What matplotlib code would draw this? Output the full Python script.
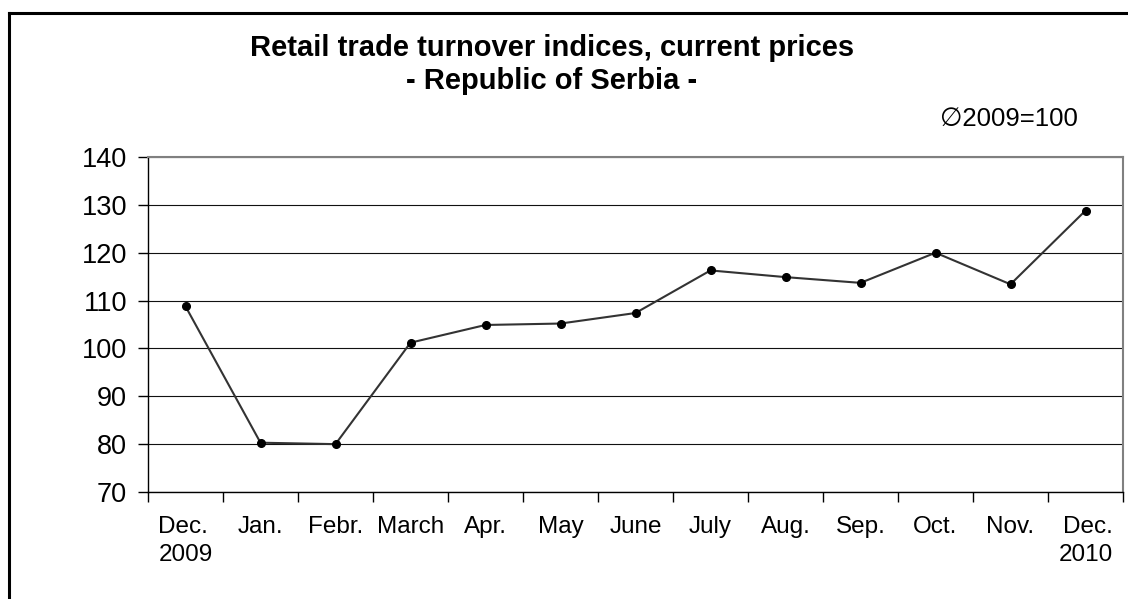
import matplotlib
matplotlib.use("Agg")
import matplotlib.pyplot as plt
from matplotlib.lines import Line2D

MONTHS = ["Dec.\n2009", "Jan.", "Febr.", "March", "Apr.", "May", "June",
          "July", "Aug.", "Sep.", "Oct.", "Nov.", "Dec.\n2010"]
INDEX = [108.8, 80.3, 80.0, 101.2, 104.9, 105.2, 107.4,
         116.3, 114.9, 113.7, 120.0, 113.4, 128.8]
YTICKS = [70, 80, 90, 100, 110, 120, 130, 140]

plt.rcParams["font.family"] = ["Liberation Sans", "DejaVu Sans"]

W, H = 1128, 599
fig = plt.figure(figsize=(W / 100, H / 100), dpi=100)
ax = fig.add_axes([148 / W, 1 - 492 / H, (1123 - 148) / W, (492 - 157) / H])

x = list(range(len(MONTHS)))
ax.plot(x, INDEX, color="#333333", linewidth=1.5, marker="o",
        markersize=5.5, markerfacecolor="black", markeredgecolor="black",
        zorder=3)

ax.set_xlim(-0.5, len(MONTHS) - 0.5)
ax.set_ylim(70, 140)
ax.set_yticks(YTICKS)
ax.set_yticklabels([str(v) for v in YTICKS], fontsize=19.5)
ax.grid(axis="y", color="#111111", linewidth=0.8)
ax.set_axisbelow(True)

# category labels centred, ticks between categories
ax.set_xticks(x)
ax.set_xticklabels(MONTHS, fontsize=17.5, linespacing=1.35)
ax.tick_params(axis="x", which="major", length=0, pad=17)
ax.set_xticks([i - 0.5 for i in range(len(MONTHS) + 1)], minor=True)
ax.tick_params(axis="x", which="minor", length=7, width=1, direction="out")
ax.tick_params(axis="y", length=7, width=1, direction="out", pad=8)
labels = ax.get_xticklabels()
labels[0].set_multialignment("left")
labels[-1].set_multialignment("right")

for s in ("left", "bottom"):
    ax.spines[s].set_color("black")
    ax.spines[s].set_linewidth(1)
for s in ("top", "right"):
    ax.spines[s].set_color("#808080")
    ax.spines[s].set_linewidth(1.5)

fig.text(552 / W, 1 - 56 / H, "Retail trade turnover indices, current prices",
         ha="center", va="baseline", fontsize=21, fontweight="bold")
fig.text(552 / W, 1 - 89 / H, "- Republic of Serbia -",
         ha="center", va="baseline", fontsize=21, fontweight="bold")
fig.text(1078 / W, 1 - 126 / H, "\u22052009=100", ha="right", va="baseline",
         fontsize=18.5)

# outer frame (top and left edges visible)
fig.add_artist(Line2D([9 / W, 1.0], [1 - 13 / H, 1 - 13 / H],
                      transform=fig.transFigure, color="black", linewidth=2.2))
fig.add_artist(Line2D([9 / W, 9 / W], [0.0, 1 - 13 / H],
                      transform=fig.transFigure, color="black", linewidth=2.2))

fig.savefig("out.png", dpi=100)
